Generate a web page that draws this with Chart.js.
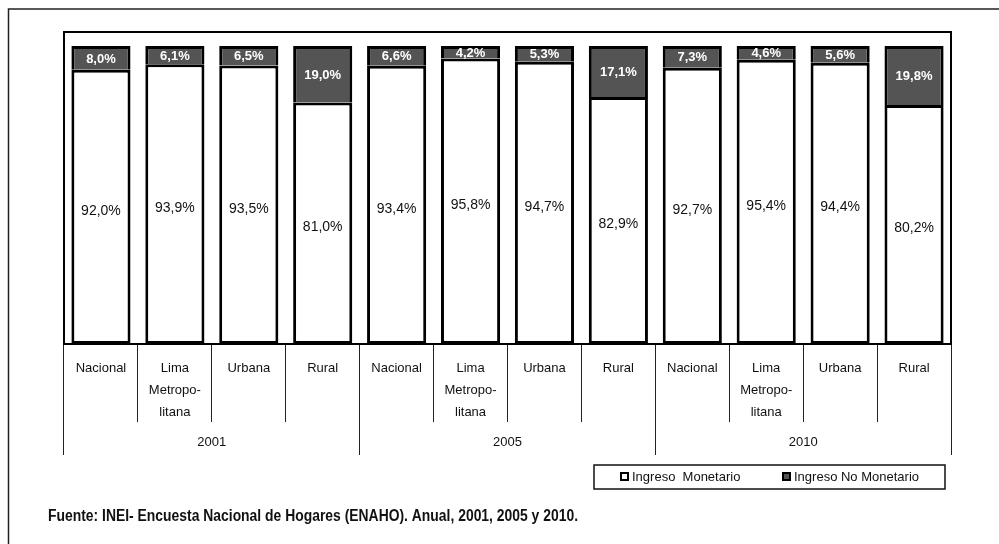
<!DOCTYPE html>
<html><head><meta charset="utf-8">
<script src="https://cdn.jsdelivr.net/npm/chart.js@4/dist/chart.umd.min.js"></script>
<style>html,body{margin:0;padding:0;background:#fff}#wrap{width:999px;height:544px;position:relative}</style>
</head><body><div id="wrap"><canvas id="c" width="999" height="544"></canvas></div>
<script>
// ---- data ----
const categories = ['Nacional', ['Lima','Metropo-','litana'], 'Urbana', 'Rural',
                    'Nacional', ['Lima','Metropo-','litana'], 'Urbana', 'Rural',
                    'Nacional', ['Lima','Metropo-','litana'], 'Urbana', 'Rural'];
const years = ['2001', '2005', '2010'];
const ingresoMonetario   = [92.0, 93.9, 93.5, 81.0, 93.4, 95.8, 94.7, 82.9, 92.7, 95.4, 94.4, 80.2];
const ingresoNoMonetario = [8.0, 6.1, 6.5, 19.0, 6.6, 4.2, 5.3, 17.1, 7.3, 4.6, 5.6, 19.8];
const seriesNames = ['Ingreso  Monetario', 'Ingreso No Monetario'];
const sourceNote = 'Fuente: INEI- Encuesta Nacional de Hogares (ENAHO). Anual, 2001, 2005 y 2010.';

const FONT = "'Liberation Sans', Arial, sans-serif";
const DARK = '#545454';

const fmt = v => v.toFixed(1).replace('.', ',') + '%';

const pagePlugin = {
  id: 'page',
  beforeDraw(chart) {
    const ctx = chart.ctx;
    ctx.save();
    ctx.fillStyle = '#fff';
    ctx.fillRect(0, 0, chart.width, chart.height);
    ctx.strokeStyle = '#222';
    ctx.lineWidth = 1.5;
    ctx.beginPath();
    ctx.moveTo(8.5, chart.height);
    ctx.lineTo(8.5, 9);
    ctx.lineTo(chart.width, 9);
    ctx.stroke();
    ctx.restore();
  },
  afterDraw(chart) {
    const ctx = chart.ctx;
    const a = chart.chartArea;
    ctx.save();
    // plot frame
    ctx.strokeStyle = '#000';
    ctx.lineWidth = 2;
    ctx.beginPath();
    ctx.moveTo(a.left, a.bottom);
    ctx.lineTo(a.left, a.top);
    ctx.lineTo(a.right, a.top);
    ctx.lineTo(a.right, a.bottom);
    ctx.stroke();
    // legend
    const lx = 594, ly = 465, lw = 351, lh = 24;
    ctx.lineWidth = 1.5;
    ctx.strokeStyle = '#111';
    ctx.strokeRect(lx, ly, lw, lh);
    const ds = chart.data.datasets;
    const items = [{x: 620, ds: ds[0]}, {x: 782, ds: ds[1]}];
    ctx.font = '13px ' + FONT;
    ctx.textBaseline = 'middle';
    ctx.textAlign = 'left';
    items.forEach(it => {
      ctx.fillStyle = it.ds.backgroundColor;
      ctx.fillRect(it.x, 472, 9, 9);
      ctx.lineWidth = 2;
      ctx.strokeStyle = '#000';
      ctx.strokeRect(it.x + 1, 473, 7, 7);
      ctx.fillStyle = '#111';
      ctx.fillText(it.ds.label, it.x + 12, 477.5);
    });
    // source note (condensed bold, like Arial Narrow)
    ctx.font = 'bold 15px ' + FONT;
    ctx.fillStyle = '#111';
    const w = ctx.measureText(sourceNote).width;
    const sx = 530 / w;
    ctx.translate(48, 517);
    ctx.scale(sx, 1.05);
    ctx.fillText(sourceNote, 0, 0);
    ctx.restore();
  }
};

const valueLabels = {
  id: 'valueLabels',
  afterDatasetsDraw(chart) {
    const ctx = chart.ctx;
    ctx.save();
    ctx.textAlign = 'center';
    ctx.textBaseline = 'middle';
    chart.data.datasets.forEach((ds, di) => {
      const meta = chart.getDatasetMeta(di);
      meta.data.forEach((el, i) => {
        const v = ds.data[i];
        const cy = (el.y + el.base) / 2;
        if (di === 0) {
          ctx.font = '14px ' + FONT;
          ctx.fillStyle = '#111';
          ctx.fillText(fmt(v), el.x, cy + 4);
        } else {
          ctx.font = 'bold 13px ' + FONT;
          ctx.fillStyle = '#fff';
          ctx.fillText(fmt(v), el.x, cy + 1);
        }
      });
    });
    ctx.restore();
  }
};

new Chart(document.getElementById('c'), {
  type: 'bar',
  data: {
    labels: categories,
    datasets: [
      { label: seriesNames[0], data: ingresoMonetario, backgroundColor: '#ffffff',
        borderColor: '#000', borderWidth: 3, borderSkipped: false,
        barPercentage: 0.8, categoryPercentage: 1.0 },
      { label: seriesNames[1], data: ingresoNoMonetario, backgroundColor: DARK,
        borderColor: '#000', borderWidth: 3, borderSkipped: 'start',
        barPercentage: 0.8, categoryPercentage: 1.0 }
    ]
  },
  options: {
    responsive: false,
    animation: false,
    devicePixelRatio: 1,
    layout: { padding: { left: 64, right: 48, top: 32, bottom: 89 } },
    plugins: { legend: { display: false }, tooltip: { enabled: false } },
    scales: {
      x: {
        stacked: true,
        position: 'bottom',
        weight: 1,
        offset: true,
        grid: { display: true, drawOnChartArea: false, drawTicks: true, tickLength: 78,
                offset: true, color: '#222', lineWidth: 1 },
        border: { display: true, color: '#000', width: 2 },
        ticks: { autoSkip: false, maxRotation: 0, minRotation: 0, padding: -65,
                 color: '#111', font: { family: FONT, size: 13, lineHeight: 1.7 } },
        afterFit(s) { s.height = 78; }
      },
      x2: {
        type: 'category',
        labels: years,
        position: 'bottom',
        weight: 2,
        offset: true,
        grid: { display: true, drawOnChartArea: false, drawTicks: true, tickLength: 33,
                offset: true, color: '#222', lineWidth: 1 },
        border: { display: false },
        ticks: { autoSkip: false, maxRotation: 0, padding: -20, color: '#111',
                 font: { family: FONT, size: 13, lineHeight: 1.2 } },
        afterFit(s) { s.height = 33; }
      },
      y: { stacked: true, display: false, min: 0, max: 104.7 }
    }
  },
  plugins: [pagePlugin, valueLabels]
});
</script>
</body></html>
